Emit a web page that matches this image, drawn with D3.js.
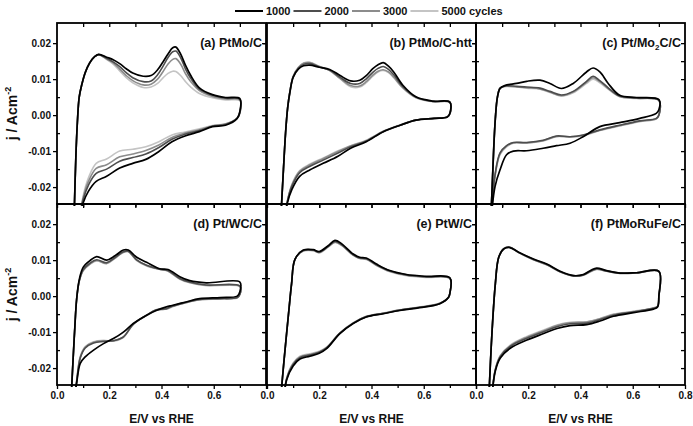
<!DOCTYPE html>
<html><head><meta charset="utf-8">
<script src="https://cdn.jsdelivr.net/npm/d3@7"></script>
<style>
html,body{margin:0;padding:0;background:#fff;}
svg{display:block;font-family:"Liberation Sans",Arial,sans-serif;font-weight:bold;}
</style></head>
<body><svg id="c" width="693" height="426"></svg>
<script>
// ---------- DATA ----------
const cycles = ["1000", "2000", "3000", "5000 cycles"];
const seriesColors = ["#000000", "#4d4d4d", "#8c8c8c", "#c4c4c4"];
const xTicks = [0, 0.2, 0.4, 0.6, 0.8];
const yTicks = [-0.02, -0.01, 0, 0.01, 0.02];

// Panel (a) PtMo/C
const aE_an = [0.066,0.072,0.078,0.085,0.095,0.108,0.125,0.145,0.16,0.19,0.215,0.24,0.265,0.29,0.33,0.36,0.385,0.405,0.425,0.443,0.455,0.473,0.492,0.512,0.545,0.595,0.645,0.7];
const aJ_an = [
 [-0.027,-0.012,-0.002,0.005,0.0085,0.0118,0.0145,0.0163,0.0169,0.0161,0.0154,0.0143,0.0129,0.0117,0.0108,0.011,0.0126,0.0147,0.017,0.0187,0.0189,0.017,0.0138,0.011,0.0076,0.0057,0.0049,0.0046],
 [-0.027,-0.012,-0.002,0.005,0.0085,0.0118,0.0145,0.0163,0.0168,0.0158,0.0148,0.0135,0.0118,0.0104,0.0093,0.0095,0.0112,0.0135,0.016,0.0176,0.0178,0.016,0.0128,0.0102,0.0072,0.0055,0.0047,0.0044],
 [-0.027,-0.012,-0.002,0.005,0.0085,0.0118,0.0145,0.0163,0.0168,0.0156,0.0145,0.0128,0.011,0.0096,0.0084,0.0086,0.01,0.012,0.0142,0.0155,0.0157,0.0142,0.0115,0.0093,0.0068,0.0052,0.0045,0.0042],
 [-0.027,-0.012,-0.002,0.005,0.0085,0.0118,0.0145,0.0163,0.0168,0.0155,0.0142,0.0123,0.0104,0.009,0.0077,0.0078,0.0088,0.0103,0.0116,0.0122,0.0121,0.011,0.0093,0.0078,0.006,0.0048,0.0042,0.004]
];
const aE_ca = [0.7,0.69,0.645,0.595,0.545,0.49,0.44,0.39,0.34,0.29,0.24,0.19,0.15,0.12,0.1,0.088];
const aJ_ca = [
 [0.001,-0.0009,-0.0028,-0.0032,-0.0046,-0.0058,-0.0074,-0.0101,-0.0123,-0.0134,-0.0147,-0.017,-0.0184,-0.0212,-0.0244,-0.028],
 [0.0008,-0.0008,-0.0026,-0.0031,-0.0043,-0.0053,-0.0067,-0.009,-0.0108,-0.0118,-0.0128,-0.015,-0.0162,-0.0195,-0.0235,-0.028],
 [0.0006,-0.0008,-0.0025,-0.003,-0.0041,-0.005,-0.0062,-0.0083,-0.0098,-0.0108,-0.0116,-0.0138,-0.0148,-0.0185,-0.023,-0.028],
 [0.0005,-0.0008,-0.0024,-0.0029,-0.0038,-0.0047,-0.0055,-0.0074,-0.0088,-0.0095,-0.01,-0.0122,-0.0134,-0.0175,-0.0225,-0.028]
];

// Panel (b) PtMo/C-htt
const bE_an = [0.054,0.063,0.071,0.079,0.088,0.1,0.12,0.14,0.164,0.2,0.24,0.28,0.32,0.355,0.38,0.405,0.425,0.445,0.465,0.485,0.52,0.57,0.635,0.7];
const bJ_an = [
 [-0.027,-0.015,-0.005,0.002,0.0065,0.0105,0.0128,0.0137,0.0139,0.0133,0.0127,0.011,0.0095,0.0097,0.011,0.0129,0.014,0.0146,0.0136,0.012,0.0083,0.0051,0.0039,0.0036],
 [-0.027,-0.015,-0.005,0.002,0.0066,0.0106,0.013,0.0141,0.0143,0.0134,0.0125,0.0105,0.0088,0.0088,0.0101,0.0119,0.013,0.0135,0.0127,0.0112,0.0079,0.005,0.0038,0.0036],
 [-0.027,-0.015,-0.005,0.002,0.0067,0.0107,0.0132,0.0144,0.0146,0.0135,0.0124,0.0102,0.0082,0.0081,0.0093,0.0111,0.0122,0.0126,0.012,0.0106,0.0076,0.0049,0.0038,0.0035],
 [-0.027,-0.015,-0.005,0.002,0.0068,0.0108,0.0133,0.0145,0.0147,0.0136,0.0124,0.0101,0.0079,0.0078,0.009,0.0108,0.012,0.0124,0.0118,0.0104,0.0075,0.0048,0.0037,0.0035]
];
const bE_ca = [0.7,0.69,0.64,0.57,0.51,0.445,0.38,0.32,0.27,0.215,0.165,0.125,0.095,0.078,0.07];
const bJ_ca = [
 [0.0005,-0.0005,-0.0009,-0.0014,-0.0028,-0.0046,-0.0074,-0.0092,-0.0115,-0.0134,-0.0152,-0.017,-0.0207,-0.0244,-0.028],
 [0.0004,-0.0005,-0.0009,-0.0014,-0.0028,-0.0046,-0.0072,-0.0088,-0.0106,-0.0125,-0.0142,-0.016,-0.0198,-0.024,-0.028],
 [0.0003,-0.0005,-0.0009,-0.0014,-0.0028,-0.0045,-0.0071,-0.0086,-0.0102,-0.0121,-0.0138,-0.0156,-0.0195,-0.024,-0.028],
 [0.0003,-0.0005,-0.0009,-0.0014,-0.0027,-0.0045,-0.007,-0.0085,-0.01,-0.0119,-0.0136,-0.0154,-0.0193,-0.024,-0.028]
];

// Panel (c) Pt/Mo2C/C
const cE_an = [0.058,0.063,0.068,0.074,0.082,0.092,0.11,0.155,0.194,0.245,0.283,0.327,0.372,0.423,0.448,0.474,0.506,0.55,0.614,0.7];
const cJ_an = [
 [-0.027,-0.018,-0.009,-0.001,0.005,0.0074,0.0082,0.0088,0.0094,0.0097,0.0088,0.0074,0.0088,0.012,0.0131,0.012,0.0088,0.0055,0.0049,0.0043],
 [-0.027,-0.018,-0.009,-0.001,0.005,0.0075,0.0081,0.008,0.0078,0.0075,0.0066,0.0056,0.0066,0.0094,0.0108,0.0096,0.0076,0.0053,0.0048,0.0042],
 [-0.027,-0.018,-0.009,-0.001,0.005,0.0075,0.008,0.0079,0.0076,0.0073,0.0064,0.0054,0.0064,0.0091,0.0104,0.0093,0.0074,0.0052,0.0047,0.0041],
 [-0.027,-0.018,-0.009,-0.001,0.005,0.0075,0.0079,0.0078,0.0075,0.0072,0.0063,0.0053,0.0062,0.0088,0.01,0.009,0.0072,0.0051,0.0046,0.004]
];
const cE_ca = [0.7,0.69,0.627,0.55,0.474,0.41,0.36,0.308,0.257,0.194,0.143,0.117,0.092,0.073,0.06];
const cJ_ca = [
 [0.0015,0.0005,-0.0009,-0.0021,-0.0032,-0.006,-0.0078,-0.0085,-0.0092,-0.0099,-0.01,-0.011,-0.0152,-0.0198,-0.027],
 [0.0,-0.0009,-0.0016,-0.0028,-0.0041,-0.0055,-0.006,-0.0058,-0.007,-0.0076,-0.0076,-0.0085,-0.0105,-0.0165,-0.027],
 [0.0,-0.001,-0.0017,-0.0029,-0.0042,-0.0056,-0.006,-0.0059,-0.0071,-0.0077,-0.0077,-0.0086,-0.0107,-0.0168,-0.027],
 [-0.0001,-0.0011,-0.0018,-0.003,-0.0043,-0.0057,-0.0061,-0.006,-0.0072,-0.0078,-0.0078,-0.0088,-0.011,-0.017,-0.027]
];

// Panel (d) Pt/WC/C
const dE_an = [0.055,0.062,0.068,0.075,0.085,0.1,0.127,0.152,0.19,0.222,0.254,0.273,0.305,0.343,0.393,0.425,0.47,0.508,0.571,0.7];
const dJ_an = [
 [-0.027,-0.017,-0.009,-0.001,0.0045,0.008,0.0099,0.011,0.01,0.0112,0.0128,0.0128,0.0108,0.0094,0.0076,0.0074,0.0054,0.0043,0.0037,0.0039],
 [-0.027,-0.017,-0.009,-0.001,0.0042,0.0073,0.0092,0.0101,0.0093,0.0107,0.0123,0.0125,0.0101,0.0086,0.0075,0.0071,0.0049,0.0039,0.0031,0.0028],
 [-0.027,-0.017,-0.009,-0.001,0.0041,0.0071,0.009,0.0099,0.0091,0.0106,0.0122,0.0124,0.01,0.0085,0.0075,0.007,0.0048,0.0038,0.003,0.0027],
 [-0.027,-0.017,-0.009,-0.001,0.004,0.007,0.0089,0.0098,0.009,0.0105,0.0121,0.0123,0.0099,0.0084,0.0074,0.0069,0.0047,0.0037,0.0029,0.0026]
];
const dE_ca = [0.7,0.69,0.625,0.546,0.49,0.44,0.419,0.38,0.343,0.292,0.254,0.216,0.178,0.14,0.108,0.089,0.074,0.066];
const dJ_ca = [
 [0.0012,0.0,-0.0004,-0.0007,-0.0017,-0.0026,-0.003,-0.004,-0.0053,-0.0076,-0.01,-0.0118,-0.0132,-0.015,-0.0169,-0.0187,-0.0247,-0.028],
 [0.0005,-0.0004,-0.0007,-0.0009,-0.0018,-0.0028,-0.0035,-0.0038,-0.0053,-0.0078,-0.0113,-0.0124,-0.0126,-0.013,-0.0144,-0.0172,-0.0245,-0.028],
 [0.0005,-0.0004,-0.0007,-0.001,-0.0019,-0.0029,-0.0036,-0.0038,-0.0053,-0.0078,-0.0114,-0.0124,-0.0124,-0.0128,-0.0142,-0.017,-0.0243,-0.028],
 [0.0004,-0.0005,-0.0008,-0.001,-0.0019,-0.003,-0.0036,-0.0039,-0.0054,-0.0079,-0.0115,-0.0125,-0.0123,-0.0127,-0.014,-0.0168,-0.024,-0.028]
];

// Panel (e) PtW/C
const eE_an = [0.054,0.065,0.075,0.085,0.094,0.107,0.139,0.177,0.2,0.234,0.26,0.285,0.33,0.355,0.38,0.419,0.47,0.534,0.61,0.7];
const eJ_an = [
 [-0.027,-0.018,-0.0104,-0.003,0.0034,0.0102,0.0128,0.0129,0.0124,0.014,0.0155,0.0146,0.0117,0.0108,0.0106,0.0089,0.0071,0.006,0.0055,0.0051],
 [-0.027,-0.018,-0.0104,-0.003,0.0034,0.0102,0.0127,0.0128,0.0122,0.0138,0.0152,0.0143,0.0115,0.0106,0.0104,0.0087,0.007,0.0059,0.0054,0.005],
 [-0.027,-0.018,-0.0104,-0.003,0.0034,0.0102,0.0126,0.0127,0.0121,0.0137,0.015,0.0142,0.0114,0.0105,0.0103,0.0086,0.0069,0.0058,0.0053,0.0049],
 [-0.027,-0.018,-0.0104,-0.003,0.0034,0.0102,0.0125,0.0126,0.012,0.0136,0.0149,0.0141,0.0113,0.0104,0.0102,0.0085,0.0068,0.0057,0.0052,0.0049]
];
const eE_ca = [0.7,0.695,0.661,0.585,0.508,0.445,0.38,0.33,0.279,0.228,0.2,0.164,0.126,0.1,0.075,0.066];
const eJ_ca = [
 [0.0008,-0.0003,-0.0021,-0.0032,-0.004,-0.0049,-0.0058,-0.0076,-0.0104,-0.0146,-0.0159,-0.0167,-0.0175,-0.0194,-0.0233,-0.028],
 [0.0008,-0.0003,-0.0021,-0.0031,-0.0039,-0.0048,-0.0057,-0.0075,-0.0103,-0.0144,-0.0156,-0.0164,-0.0171,-0.019,-0.0231,-0.028],
 [0.0008,-0.0003,-0.002,-0.0031,-0.0039,-0.0048,-0.0057,-0.0075,-0.0103,-0.0143,-0.0155,-0.0162,-0.0169,-0.0188,-0.023,-0.028],
 [0.0008,-0.0003,-0.002,-0.003,-0.0038,-0.0047,-0.0056,-0.0074,-0.0102,-0.0142,-0.0153,-0.016,-0.0167,-0.0186,-0.0228,-0.028]
];

// Panel (f) PtMoRuFe/C
const fE_an = [0.05,0.061,0.074,0.087,0.106,0.129,0.163,0.22,0.271,0.322,0.373,0.411,0.44,0.462,0.5,0.552,0.615,0.7];
const fJ_an = [
 [-0.027,-0.0104,0.0034,0.0108,0.0131,0.0135,0.0122,0.0103,0.0089,0.0069,0.0057,0.006,0.0072,0.0078,0.0071,0.0064,0.0065,0.0069],
 [-0.027,-0.0104,0.0034,0.0108,0.0131,0.0136,0.0122,0.0102,0.0088,0.0068,0.0057,0.0059,0.007,0.0076,0.007,0.0064,0.0065,0.0069],
 [-0.027,-0.0104,0.0034,0.0108,0.0132,0.0136,0.0121,0.0101,0.0087,0.0068,0.0056,0.0058,0.0069,0.0075,0.0069,0.0063,0.0064,0.0068],
 [-0.027,-0.0104,0.0034,0.0108,0.0132,0.0137,0.0121,0.0101,0.0087,0.0067,0.0056,0.0058,0.0068,0.0074,0.0069,0.0063,0.0064,0.0068]
];
const fE_ca = [0.7,0.695,0.679,0.603,0.526,0.475,0.424,0.36,0.31,0.259,0.195,0.131,0.093,0.074,0.062];
const fJ_ca = [
 [0.0,-0.003,-0.0036,-0.0046,-0.0056,-0.0069,-0.0079,-0.0082,-0.009,-0.0104,-0.0122,-0.0145,-0.0172,-0.0208,-0.027],
 [0.0,-0.0029,-0.0034,-0.0044,-0.0053,-0.0065,-0.0075,-0.0077,-0.0085,-0.0099,-0.0117,-0.014,-0.0168,-0.0205,-0.027],
 [0.0,-0.0028,-0.0033,-0.0043,-0.0051,-0.0063,-0.0072,-0.0074,-0.0082,-0.0096,-0.0114,-0.0138,-0.0166,-0.0204,-0.027],
 [0.0,-0.0028,-0.0033,-0.0042,-0.005,-0.0062,-0.0071,-0.0073,-0.008,-0.0094,-0.0112,-0.0136,-0.0165,-0.0203,-0.027]
];

const panelLabels = ["(a) PtMo/C", "(b) PtMo/C-htt", "(c) Pt/Mo|2|C/C", "(d) Pt/WC/C", "(e) PtW/C", "(f) PtMoRuFe/C"];

// ---------- LAYOUT ----------
const svg = d3.select("#c");
const colX = [57, 267, 476], panelW = 209;
const rowY = [23, 204], panelH = 181;
const xDomain = [0, 0.8], yDomain = [-0.0247, 0.0256];

const panels = [
  {E_an: aE_an, J_an: aJ_an, E_ca: aE_ca, J_ca: aJ_ca},
  {E_an: bE_an, J_an: bJ_an, E_ca: bE_ca, J_ca: bJ_ca},
  {E_an: cE_an, J_an: cJ_an, E_ca: cE_ca, J_ca: cJ_ca},
  {E_an: dE_an, J_an: dJ_an, E_ca: dE_ca, J_ca: dJ_ca},
  {E_an: eE_an, J_an: eJ_an, E_ca: eE_ca, J_ca: eJ_ca},
  {E_an: fE_an, J_an: fJ_an, E_ca: fE_ca, J_ca: fJ_ca}
];

const fmtY = d => d.toFixed(2);
const fmtX = d => d.toFixed(1);

panels.forEach((p, i) => {
  const col = i % 3, row = Math.floor(i / 3);
  const x0 = colX[col], y0 = rowY[row];
  const x = d3.scaleLinear().domain(xDomain).range([x0, x0 + panelW]);
  const y = d3.scaleLinear().domain(yDomain).range([y0 + panelH, y0]);

  const clipId = "clip" + i;
  svg.append("clipPath").attr("id", clipId).append("rect")
    .attr("x", x0).attr("y", y0).attr("width", panelW).attr("height", panelH + 2);

  const line = d3.line().x(d => x(d[0])).y(d => y(d[1])).curve(d3.curveCatmullRom.alpha(0.5));
  const g = svg.append("g").attr("clip-path", `url(#${clipId})`);
  for (let s = 3; s >= 0; s--) {
    const pts = p.E_an.map((e, k) => [e, p.J_an[s][k]])
      .concat(p.E_ca.map((e, k) => [e, p.J_ca[s][k]]));
    g.append("path").attr("d", line(pts)).attr("fill", "none")
      .attr("stroke", seriesColors[s]).attr("stroke-width", s === 0 ? 1.7 : 1.6)
      .attr("stroke-linejoin", "round");
  }

  const yMinor = [-0.015, -0.005, 0.005, 0.015];
  const xMinor = [0.1, 0.3, 0.5, 0.7];
  const xAll = [0, 0.1, 0.2, 0.3, 0.4, 0.5, 0.6, 0.7, 0.8];
  const showY = col === 0, showX = row === 1;

  const gl = svg.append("g").attr("transform", `translate(${x0},0)`)
    .call(d3.axisLeft(y).tickValues(yTicks).tickSize(4).tickPadding(2)
      .tickFormat(showY ? fmtY : () => ""));
  const glm = svg.append("g").attr("transform", `translate(${x0},0)`)
    .call(d3.axisRight(y).tickValues(yMinor).tickSize(3).tickFormat(() => ""));
  const gr = svg.append("g").attr("transform", `translate(${x0 + panelW},0)`)
    .call(d3.axisLeft(y).tickValues(yTicks.concat(yMinor)).tickSize(4).tickFormat(() => ""));
  const gt = svg.append("g").attr("transform", `translate(0,${y0})`)
    .call(d3.axisBottom(x).tickValues(xAll.slice(1, -1)).tickSize(4).tickFormat(() => ""));
  const xLabelTicks = col === 2 ? xTicks : xTicks.slice(0, -1);
  const gb = svg.append("g").attr("transform", `translate(0,${y0 + panelH})`)
    .call(d3.axisBottom(x).tickValues(xAll).tickSize(4).tickPadding(3)
      .tickFormat(d => (showX && xLabelTicks.some(t => Math.abs(t - d) < 1e-9)) ? fmtX(d) : ""));
  gb.selectAll(".tick line").attr("y2", d => xMinor.some(t => Math.abs(t - d) < 1e-9) ? 3 : 4);

  [gl, glm, gr, gt, gb].forEach(a => {
    a.select(".domain").remove();
    a.selectAll(".tick line").attr("stroke", "#000").attr("stroke-width", 1.3);
    a.selectAll("text").attr("fill", "#111").attr("font-size", 10)
      .attr("font-family", "'Liberation Sans',Arial,sans-serif").attr("font-weight", "bold");
  });

  svg.append("rect").attr("x", x0).attr("y", y0).attr("width", panelW).attr("height", panelH)
    .attr("fill", "none").attr("stroke", "#000").attr("stroke-width", 1.8);

  const parts = panelLabels[i].split("|");
  const t = svg.append("text").attr("x", x0 + panelW - 4).attr("y", y0 + 24)
    .attr("text-anchor", "end").attr("font-size", 12.5).attr("fill", "#111");
  if (parts.length === 1) t.text(parts[0]);
  else {
    t.append("tspan").text(parts[0]);
    t.append("tspan").attr("font-size", 8).attr("dy", 3).text(parts[1]);
    t.append("tspan").attr("dy", -3).text(parts[2]);
  }

  if (showY) {
    const yl = svg.append("text").attr("transform", `translate(17,${y0 + panelH / 2}) rotate(-90)`)
      .attr("text-anchor", "middle").attr("font-size", 14).attr("fill", "#111");
    yl.append("tspan").text("j / Acm");
    yl.append("tspan").attr("font-size", 9).attr("dy", -6).text("-2");
  }
  if (showX) {
    svg.append("text").attr("x", x0 + panelW / 2).attr("y", 423)
      .attr("text-anchor", "middle").attr("font-size", 12).attr("fill", "#111")
      .text("E/V vs RHE");
  }
});

// ---------- LEGEND ----------
let lx = 235;
const legY = 11;
cycles.forEach((c, i) => {
  svg.append("line").attr("x1", lx).attr("x2", lx + 28).attr("y1", legY).attr("y2", legY)
    .attr("stroke", seriesColors[i]).attr("stroke-width", 2);
  const tx = svg.append("text").attr("x", lx + 31).attr("y", legY + 4)
    .attr("font-size", 11).attr("fill", "#111").text(c);
  lx = lx + 31 + tx.node().getComputedTextLength() + 3;
});
</script></body></html>
